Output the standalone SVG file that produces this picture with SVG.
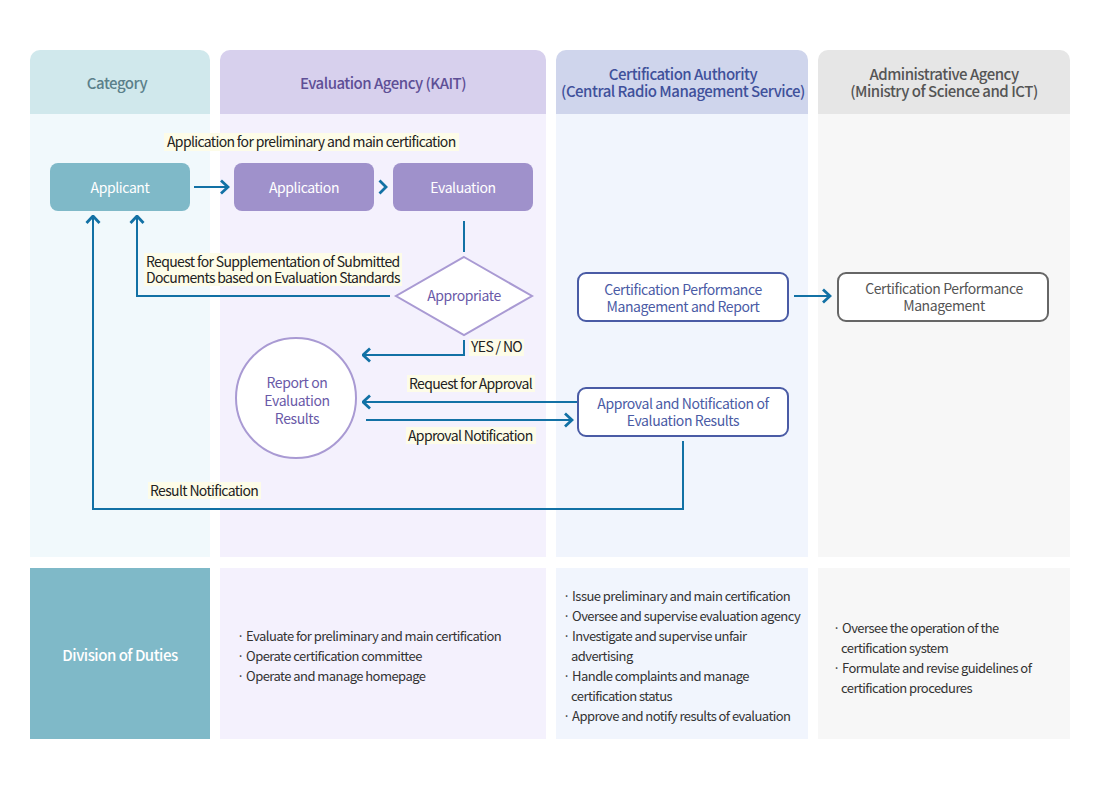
<svg xmlns="http://www.w3.org/2000/svg" width="1100" height="789" viewBox="0 0 1100 789">
<style>
text{font-family:"Noto Sans CJK KR","Noto Sans",sans-serif;}
.hd{font-size:15px;font-weight:500;text-anchor:middle;letter-spacing:-0.5px;}
.nt{font-size:14px;text-anchor:middle;letter-spacing:-0.4px;}
.lb{font-size:14px;fill:#222;letter-spacing:-0.65px;}
.bl{font-size:13px;fill:#333;letter-spacing:-0.55px;}
.hl{fill:#fdfce8;}
.cn{fill:none;stroke:#1271a5;stroke-width:2;}
.ch{fill:none;stroke:#1271a5;stroke-width:2.8;}
</style>
<defs>
<marker id="arr" viewBox="0 0 10 16" refX="8.5" refY="8" markerWidth="10" markerHeight="16" markerUnits="userSpaceOnUse" orient="auto">
<path d="M1.5,1.5 L8.5,8 L1.5,14.5" fill="none" stroke="#1271a5" stroke-width="2.8"/>
</marker>
</defs>
<rect width="1100" height="789" fill="#ffffff"/>

<g id="lanes">
<path d="M30,114 V60 a10,10 0 0 1 10,-10 H200 a10,10 0 0 1 10,10 V114 Z" fill="#d0e8ec"/>
<rect x="30" y="114" width="180" height="443" fill="#f1f9fc"/>
<path d="M220,114 V60 a10,10 0 0 1 10,-10 H536 a10,10 0 0 1 10,10 V114 Z" fill="#d7d0ed"/>
<rect x="220" y="114" width="326" height="443" fill="#f4f1fd"/>
<path d="M556,114 V60 a10,10 0 0 1 10,-10 H798 a10,10 0 0 1 10,10 V114 Z" fill="#cfd5ec"/>
<rect x="556" y="114" width="252" height="443" fill="#f1f5fd"/>
<path d="M818,114 V60 a10,10 0 0 1 10,-10 H1060 a10,10 0 0 1 10,10 V114 Z" fill="#e6e6e6"/>
<rect x="818" y="114" width="252" height="443" fill="#f7f7f7"/>
<text class="hd" x="117" y="89" fill="#5b808a">Category</text>
<text class="hd" x="383" y="89" fill="#5e4f96">Evaluation Agency (KAIT)</text>
<text class="hd" x="683" y="80" fill="#3f519b">Certification Authority</text>
<text class="hd" x="683" y="97" fill="#3f519b">(Central Radio Management Service)</text>
<text class="hd" x="944" y="80" fill="#555555">Administrative Agency</text>
<text class="hd" x="944" y="97" fill="#555555">(Ministry of Science and ICT)</text>
</g>

<g id="duties">
<rect x="30" y="568" width="180" height="171" fill="#7fb9c8"/>
<rect x="220" y="568" width="326" height="171" fill="#f4f1fd"/>
<rect x="556" y="568" width="252" height="171" fill="#f1f5fd"/>
<rect x="818" y="568" width="252" height="171" fill="#f7f7f7"/>
<text class="hd" x="120" y="661" fill="#ffffff">Division of Duties</text>
<text class="bl" x="237" y="641">· Evaluate for preliminary and main certification</text>
<text class="bl" x="237" y="661">· Operate certification committee</text>
<text class="bl" x="237" y="681">· Operate and manage homepage</text>
<text class="bl" x="563" y="601">· Issue preliminary and main certification</text>
<text class="bl" x="563" y="621">· Oversee and supervise evaluation agency</text>
<text class="bl" x="563" y="641">· Investigate and supervise unfair</text>
<text class="bl" x="571" y="661">advertising</text>
<text class="bl" x="563" y="681">· Handle complaints and manage</text>
<text class="bl" x="571" y="701">certification status</text>
<text class="bl" x="563" y="721">· Approve and notify results of evaluation</text>
<text class="bl" x="833" y="633">· Oversee the operation of the</text>
<text class="bl" x="841" y="653">certification system</text>
<text class="bl" x="833" y="673">· Formulate and revise guidelines of</text>
<text class="bl" x="841" y="693">certification procedures</text>
</g>

<g id="connectors">
<rect class="hl" x="164" y="133" width="295" height="18"/>
<text class="lb" x="167" y="147">Application for preliminary and main certification</text>
<path class="cn" d="M194,187 H228" marker-end="url(#arr)"/>
<path class="ch" d="M379.5,180.5 L386,187 L379.5,193.5"/>
<path class="cn" d="M464,221 V252"/>
<path class="cn" d="M390,296 H137 V216" marker-end="url(#arr)"/>
<rect class="hl" x="144" y="253" width="258" height="33"/>
<text class="lb" x="146" y="267">Request for Supplementation of Submitted</text>
<text class="lb" x="146" y="283">Documents based on Evaluation Standards</text>
<path class="cn" d="M464,340 V355 H363" marker-end="url(#arr)"/>
<rect class="hl" x="469" y="339" width="55" height="17"/>
<text class="lb" x="471" y="352">YES / NO</text>
<path class="cn" d="M578,402 H363" marker-end="url(#arr)"/>
<rect class="hl" x="407" y="375" width="128" height="17"/>
<text class="lb" x="409" y="389">Request for Approval</text>
<path class="cn" d="M366,420 H572" marker-end="url(#arr)"/>
<rect class="hl" x="406" y="427" width="130" height="17"/>
<text class="lb" x="408" y="441">Approval Notification</text>
<path class="cn" d="M683,441 V509 H93 V216" marker-end="url(#arr)"/>
<rect class="hl" x="148" y="482" width="113" height="17"/>
<text class="lb" x="150" y="496">Result Notification</text>
<path class="cn" d="M794,296 H830" marker-end="url(#arr)"/>
</g>

<g id="applicant">
<rect x="50" y="163" width="140" height="48" rx="8" fill="#7fb9c8"/>
<text class="nt" x="120" y="193" fill="#ffffff">Applicant</text>
</g>
<g id="application">
<rect x="234" y="163" width="140" height="48" rx="8" fill="#9f91cb"/>
<text class="nt" x="304" y="193" fill="#ffffff">Application</text>
</g>
<g id="evaluation">
<rect x="393" y="163" width="140" height="48" rx="8" fill="#9f91cb"/>
<text class="nt" x="463" y="193" fill="#ffffff">Evaluation</text>
</g>
<g id="appropriate">
<polygon points="464,257 532,296 464,335 396,296" fill="#ffffff" stroke="#a99ad3" stroke-width="2"/>
<text class="nt" x="464" y="301" fill="#6a5aa8">Appropriate</text>
</g>
<g id="report">
<circle cx="296" cy="398" r="60" fill="#ffffff" stroke="#a99ad3" stroke-width="2"/>
<text class="nt" x="297" y="388" fill="#6a5aa8">Report on</text>
<text class="nt" x="297" y="406" fill="#6a5aa8">Evaluation</text>
<text class="nt" x="297" y="424" fill="#6a5aa8">Results</text>
</g>
<g id="cert-report">
<rect x="578" y="273" width="210" height="48" rx="8" fill="#ffffff" stroke="#4a5ba5" stroke-width="2"/>
<text class="nt" x="683" y="295" fill="#4a5ba5">Certification Performance</text>
<text class="nt" x="683" y="312" fill="#4a5ba5">Management and Report</text>
</g>
<g id="approval">
<rect x="578" y="388" width="210" height="48" rx="8" fill="#ffffff" stroke="#4a5ba5" stroke-width="2"/>
<text class="nt" x="683" y="409" fill="#4a5ba5">Approval and Notification of</text>
<text class="nt" x="683" y="426" fill="#4a5ba5">Evaluation Results</text>
</g>
<g id="admin-mgmt">
<rect x="838" y="273" width="210" height="48" rx="8" fill="#ffffff" stroke="#666666" stroke-width="2"/>
<text class="nt" x="944" y="294" fill="#555555">Certification Performance</text>
<text class="nt" x="944" y="311" fill="#555555">Management</text>
</g>
</svg>
